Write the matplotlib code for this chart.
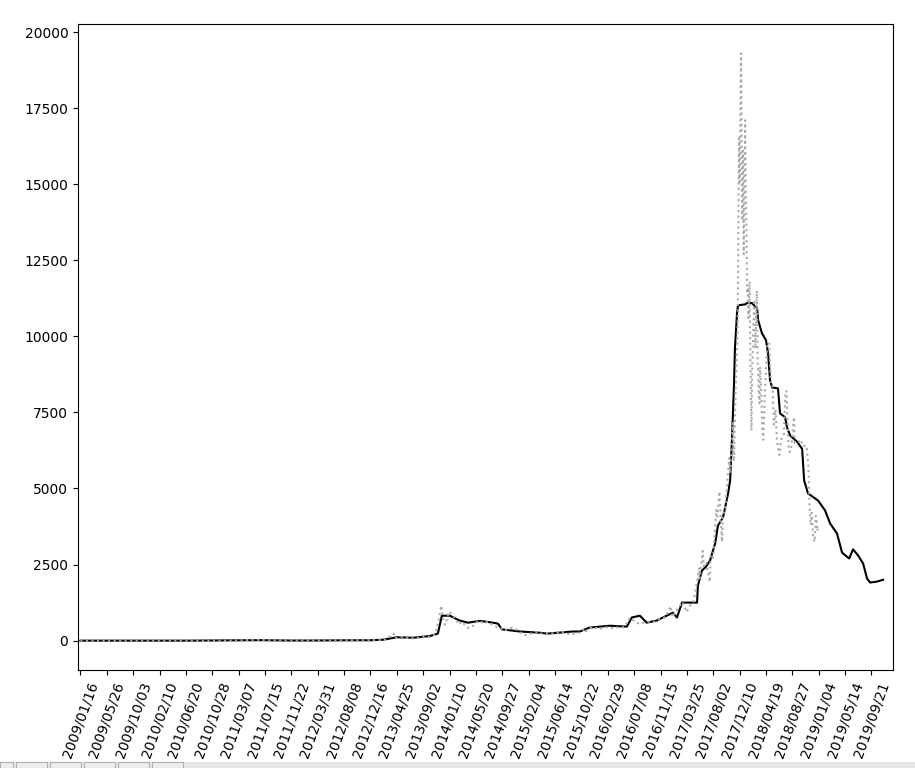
import matplotlib
matplotlib.use("Agg")
import matplotlib.pyplot as plt
import matplotlib.dates as mdates
from matplotlib.patches import Rectangle
import pandas as pd

# ---------------- data ----------------
tick_labels = ['2009/01/16', '2009/05/26', '2009/10/03', '2010/02/10', '2010/06/20',
               '2010/10/28', '2011/03/07', '2011/07/15', '2011/11/22', '2012/03/31',
               '2012/08/08', '2012/12/16', '2013/04/25', '2013/09/02', '2014/01/10',
               '2014/05/20', '2014/09/27', '2015/02/04', '2015/06/14', '2015/10/22',
               '2016/02/29', '2016/07/08', '2016/11/15', '2017/03/25', '2017/08/02',
               '2017/12/10', '2018/04/19', '2018/08/27', '2019/01/04', '2019/05/14',
               '2019/09/21']

# actual price (grey dotted)
actual_dates = [
    '2009-01-16', '2010-01-16', '2010-07-17', '2010-11-06', '2011-02-10', '2011-06-08',
    '2011-07-15', '2011-11-18', '2012-03-31', '2012-08-16', '2012-12-16', '2013-01-31',
    '2013-03-01', '2013-04-09', '2013-04-16', '2013-05-20', '2013-07-05', '2013-08-15',
    '2013-09-02', '2013-10-04', '2013-10-31', '2013-11-18', '2013-11-30', '2013-12-08',
    '2013-12-18', '2013-12-31', '2014-01-05', '2014-01-25', '2014-02-25', '2014-03-10',
    '2014-04-10', '2014-04-30', '2014-06-02', '2014-06-25', '2014-07-20', '2014-08-18',
    '2014-09-20', '2014-10-05', '2014-11-12', '2014-12-10', '2015-01-14', '2015-02-10',
    '2015-03-10', '2015-04-14', '2015-05-20', '2015-06-20', '2015-07-12', '2015-08-24',
    '2015-09-20', '2015-10-20', '2015-11-04', '2015-11-12', '2015-12-15', '2016-01-15',
    '2016-02-20', '2016-03-20', '2016-04-20', '2016-05-20', '2016-06-17', '2016-07-01',
    '2016-08-02', '2016-09-10', '2016-10-10', '2016-11-10', '2016-12-10', '2017-01-04',
    '2017-01-11', '2017-02-01', '2017-03-03', '2017-03-24', '2017-04-05', '2017-04-25',
    '2017-05-08', '2017-05-25', '2017-05-27', '2017-06-11', '2017-06-15', '2017-06-27',
    '2017-07-16', '2017-07-20', '2017-08-01', '2017-08-17', '2017-08-22', '2017-09-01',
    '2017-09-14', '2017-09-18', '2017-10-01', '2017-10-12', '2017-10-20', '2017-10-24',
    '2017-11-07', '2017-11-12', '2017-11-20', '2017-11-26', '2017-11-29', '2017-12-01',
    '2017-12-07', '2017-12-10', '2017-12-17', '2017-12-22', '2017-12-26', '2017-12-30',
    '2018-01-06', '2018-01-09', '2018-01-12', '2018-01-16', '2018-01-19', '2018-01-22',
    '2018-01-28', '2018-02-01', '2018-02-06', '2018-02-09', '2018-02-15', '2018-02-20',
    '2018-02-25', '2018-03-05', '2018-03-08', '2018-03-14', '2018-03-18', '2018-03-20',
    '2018-03-25', '2018-04-01', '2018-04-06', '2018-04-12', '2018-04-24', '2018-05-05',
    '2018-05-12', '2018-05-20', '2018-05-28', '2018-06-05', '2018-06-12', '2018-06-24',
    '2018-07-02', '2018-07-16', '2018-07-24', '2018-07-29', '2018-08-08', '2018-08-14',
    '2018-08-22', '2018-09-04', '2018-09-07', '2018-09-20', '2018-10-10', '2018-10-15',
    '2018-11-05', '2018-11-14', '2018-11-20', '2018-11-25', '2018-12-01', '2018-12-07',
    '2018-12-15', '2018-12-20', '2018-12-24', '2018-12-28', '2018-12-31']
actual_values = [
    0, 0, 0.05, 0.4, 1, 30,
    14, 2.5, 5, 12, 13, 20,
    34, 230, 80, 120, 70, 100,
    130, 125, 200, 700, 1150, 700,
    520, 750, 950, 850, 530, 630,
    420, 450, 660, 580, 620, 480,
    410, 330, 420, 350, 175, 220,
    290, 220, 235, 245, 310, 210,
    230, 270, 400, 310, 460, 380,
    440, 410, 440, 440, 750, 680,
    550, 620, 610, 710, 770, 1130,
    780, 980, 1270, 940, 1130, 1250,
    1700, 2400, 2050, 2950, 2450, 2580,
    1930, 2830, 2720, 4300, 4080, 4900,
    3250, 4100, 4400, 5440, 6000, 5500,
    7150, 5900, 8200, 9300, 9900, 10900,
    16500, 15000, 19300, 13800, 16100, 12700,
    17100, 14600, 13800, 11400, 11600, 10600,
    11800, 9200, 6900, 8600, 10200, 11200,
    9600, 11500, 9400, 8200, 7800, 9000,
    8500, 6850, 6600, 7900, 9650, 9800,
    8500, 8500, 7100, 7600, 6550, 6100,
    6600, 6750, 8200, 8200, 6300, 6200,
    6400, 7350, 6500, 6500, 6600, 6400,
    6400, 5700, 4400, 3800, 4200, 3400,
    3250, 4100, 4000, 3600, 3750]

# model / smoothed price (black solid)
model_dates = [
    '2009-01-16', '2010-06-20', '2011-06-20', '2011-11-22', '2012-03-31', '2012-08-08',
    '2012-12-16', '2013-02-15', '2013-04-25', '2013-07-15', '2013-09-02', '2013-10-04',
    '2013-11-13', '2013-12-03', '2014-01-11', '2014-03-01', '2014-04-11', '2014-06-09',
    '2014-08-12', '2014-09-05', '2014-09-25', '2014-12-23', '2015-04-01', '2015-05-05',
    '2015-09-08', '2015-10-14', '2015-12-01', '2016-03-11', '2016-06-02', '2016-06-26',
    '2016-08-05', '2016-09-08', '2016-10-27', '2017-01-15', '2017-02-04', '2017-03-01',
    '2017-04-24', '2017-05-14', '2017-05-18', '2017-06-07', '2017-06-27', '2017-07-17',
    '2017-08-11', '2017-08-25', '2017-09-19', '2017-10-14', '2017-10-24', '2017-11-02',
    '2017-11-12', '2017-11-17', '2017-11-27', '2017-12-02', '2018-01-06', '2018-01-21',
    '2018-02-09', '2018-03-06', '2018-03-11', '2018-03-30', '2018-04-19', '2018-04-29',
    '2018-05-09', '2018-05-19', '2018-06-17', '2018-06-27', '2018-07-22', '2018-08-01',
    '2018-08-16', '2018-09-19', '2018-10-14', '2018-10-24', '2018-11-12', '2019-01-01',
    '2019-02-04', '2019-03-01', '2019-04-04', '2019-04-29', '2019-06-03', '2019-06-22',
    '2019-07-17', '2019-08-11', '2019-08-30', '2019-09-14', '2019-10-18', '2019-11-17']
model_values = [
    0, 0, 15, 3, 5, 11,
    13, 30, 110, 95, 130, 150,
    230, 820, 820, 660, 590, 650,
    590, 560, 370, 300, 260, 230,
    300, 300, 430, 490, 460, 760,
    820, 590, 660, 920, 760, 1250,
    1250, 1250, 1800, 2300, 2430, 2630,
    3190, 3780, 4050, 4840, 5260, 6600,
    8400, 9640, 10760, 11020, 11050, 11120,
    11090, 10920, 10530, 10100, 9870, 9440,
    8550, 8320, 8290, 7470, 7340, 7000,
    6740, 6540, 6300, 5260, 4840, 4600,
    4280, 3850, 3520, 2890, 2700, 3000,
    2800, 2530, 2040, 1910, 1940, 2000]

# ---------------- plot ----------------
fig = plt.figure(figsize=(9.15, 7.68), dpi=100)
ax = fig.add_axes([78 / 915, 98 / 768, (893 - 78) / 915, (670 - 24) / 768])

ax.plot(pd.to_datetime(model_dates), model_values, color='black', lw=1.5, zorder=2)
ax.plot(pd.to_datetime(actual_dates), actual_values, color='darkgray', lw=1.5,
        linestyle=':', zorder=3)

ticks = pd.to_datetime(tick_labels, format='%Y/%m/%d')
ax.set_xticks(ticks)
ax.set_xticklabels(tick_labels, rotation=70, ha='center')
ax.set_xlim(pd.Timestamp('2009-01-04'), pd.Timestamp('2020-01-05'))
ax.set_yticks([0, 2500, 5000, 7500, 10000, 12500, 15000, 17500, 20000])

# window toolbar strip at the bottom
fig.patches.append(Rectangle((0, 0), 1, 6 / 768, transform=fig.transFigure,
                             facecolor='#e6e6e6', edgecolor='none', zorder=0))
for x0, w in [(0, 13), (16, 31), (50, 31), (84, 31), (118, 31), (152, 31)]:
    fig.patches.append(Rectangle((x0 / 915, 0), w / 915, 6 / 768,
                                 transform=fig.transFigure, facecolor='#eeeeee',
                                 edgecolor='#b0b0b0', lw=0.8, zorder=1))

fig.savefig('out.png', dpi=100)
